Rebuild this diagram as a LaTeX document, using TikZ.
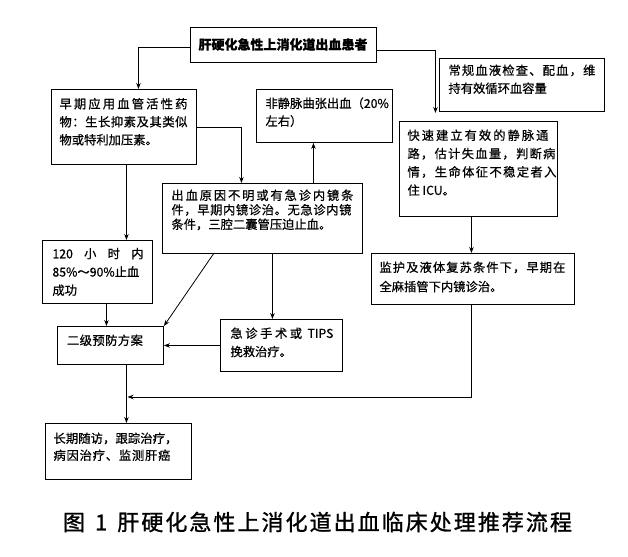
\documentclass[tikz,border=0pt]{standalone}
\usepackage{fontspec}
\newfontfamily\cjk[FakeBold=0.6]{Noto Sans CJK SC}
\newfontfamily\cjkcap[FakeBold=1.2]{Noto Sans CJK SC}
\usetikzlibrary{arrows.meta}
\newdimen\bxpad
\def\spreadit#1{\spreadA#1\relax}
\def\spreadA#1{#1\spreadB}
\def\spreadB#1{\ifx\relax#1\else\hfil#1\expandafter\spreadB\fi}
\newcommand\bx[6]{\vbox to #2pt{\bxpad=#3pt\baselineskip=#5pt\lineskiplimit=-10pt\hrule height0pt depth0pt width#1pt\vskip\dimexpr#4pt-12pt\relax #6\vss}}
\newcommand\Ln[1]{\moveright\bxpad\hbox{\rule{0pt}{12pt}#1}}
\newcommand\Sx[2]{\moveright\bxpad\hbox to #1pt{\rule{0pt}{12pt}#2}}
\newcommand\Sp[2]{\Sx{#1}{\spreadit{#2}}}
\begin{document}
\begin{tikzpicture}[x=1pt,y=-1pt,
  box/.style={draw, line width=0.9pt, inner sep=0pt, anchor=north west, font=\cjk\fontsize{12.3}{14}\selectfont},
  topbox/.style={draw, line width=0.9pt, inner sep=0pt, minimum width=186pt, minimum height=35pt, font=\cjk\bfseries\fontsize{13}{15}\selectfont},
  arr/.style={line width=0.8pt, -{Stealth[length=6pt,width=4.5pt]}}]
\useasboundingbox (0,0) rectangle (628,556);
\fill[white] (0,0) rectangle (628,556);

\node[topbox] (A) at (283,44.5) {肝硬化急性上消化道出血患者};

\node[box] (B) at (51,89) {\bx{145}{75}{8}{19}{18}{\Sp{128}{早期应用血管活性药}\Sp{128}{物：生长抑素及其类似}\Ln{物或特利加压素。}}};

\node[box] (C) at (439,58) {\bx{165}{53}{9}{16.5}{18}{\Sp{147}{常规血液检查、配血，维}\Ln{持有效循环血容量}}};

\node[box] (D) at (256,89) {\bx{136}{53}{9}{18.5}{17.7}{\Ln{非静脉曲张出血（20\%}\Ln{左右）}}};

\node[box] (E) at (399,121) {\bx{158}{95}{8}{18.5}{18.3}{\Sp{141}{快速建立有效的静脉通}\Sp{148}{路，估计失血量，判断病}\Sp{149}{情，生命体征不稳定者入}\Ln{住 ICU。}}};

\node[box] (F) at (162,183) {\bx{200}{70}{9}{16.5}{14.5}{\Sp{182}{出血原因不明或有急诊内镜条}\Sp{180}{件，早期内镜诊治。无急诊内镜}\Ln{条件，三腔二囊管压迫止血。}}};

\node[box] (G) at (42,240) {\bx{110}{63}{10}{17.8}{18.3}{\Sx{91}{120\hfil 小\hfil 时\hfil 内}\Ln{85\%～90\%止血}\Ln{成功}}};

\node[box] (H) at (57,326) {\bx{106}{38}{9.5}{18.5}{18}{\Sp{76}{二级预防方案}}};

\node[box] (I) at (220,319) {\bx{122}{52}{10}{18.5}{18.3}{\Sx{103}{急\hfil 诊\hfil 手\hfil 术\hfil 或\hfil\ TIPS}\Ln{挽救治疗。}}};

\node[box] (J) at (371,253) {\bx{203}{51}{8}{18.5}{19.3}{\Sp{186}{监护及液体复苏条件下，早期在}\Ln{全麻插管下内镜诊治。}}};

\node[box] (K) at (45,423) {\bx{146}{56}{8}{19.5}{17}{\Sp{124}{长期随访，跟踪治疗，}\Sp{117}{病因治疗、监测肝癌}}};

\node[inner sep=0pt, font=\cjkcap\fontsize{22}{22}\selectfont] (cap) at (317.5,522) {\hbox to 509pt{图\hfil\hskip8pt 1\hskip8pt\hfil\spreadit{肝硬化急性上消化道出血临床处理推荐流程}}};

% connectors
\coordinate (a1) at ([yshift=-3pt]A.west);
\coordinate (a2) at ([yshift=-5.5pt]A.east);
\coordinate (bn) at ([xshift=14.5pt]B.north);
\coordinate (en) at ([xshift=-43pt]E.north);
\coordinate (fn) at ([xshift=-21pt]F.north);
\coordinate (d1) at ([xshift=-11pt]D.south);
\coordinate (b1) at ([xshift=2.5pt]B.south);
\coordinate (g1) at ([xshift=9pt]G.south);
\coordinate (f1) at ([xshift=-49pt]F.south);
\coordinate (f2) at ([xshift=10pt]F.south);
\coordinate (e1) at ([xshift=-7pt]E.south);
\coordinate (j1) at ([xshift=-1.5pt]J.south);
\coordinate (h1) at ([xshift=16pt]H.south);
\coordinate (mrg) at (127.5,397);

\draw[arr] (a1) -| (bn);
\draw[arr, shorten >=8pt] (a2) -| (en);
\draw[arr] (B.east) -| (fn);
\draw[arr] (d1 |- F.north) -- (d1);
\draw[arr] (b1) -- (b1 |- G.north);
\draw[arr] (g1) -- (g1 |- H.north);
\draw[arr] (f1) -- (H.north east);
\draw[arr] (f2) -- (f2 |- I.north);
\draw[arr] (I.west) -- (I.west -| H.east);
\draw[arr] (e1) -- (e1 |- J.north);
\draw[arr] (j1) |- (mrg);
\draw[arr] (h1) -- (h1 |- K.north);
\end{tikzpicture}
\end{document}
